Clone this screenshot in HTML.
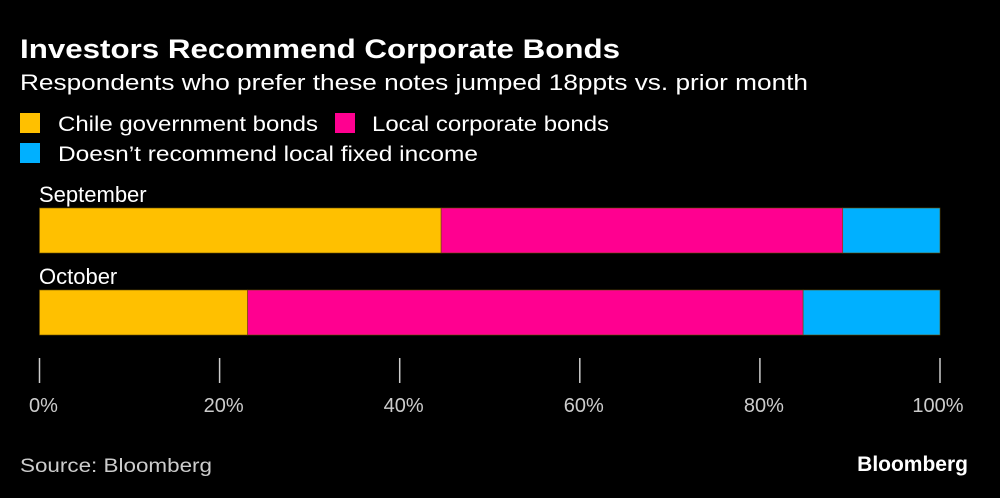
<!DOCTYPE html>
<html><head><meta charset="utf-8">
<style>
body{margin:0;background:#000;width:1000px;height:498px;overflow:hidden;font-family:"Liberation Sans",sans-serif;color:#fff}
svg{position:absolute;left:0;top:0}
</style></head>
<body>
<svg width="1000" height="498">
<text x="20" y="58" font-size="27" font-weight="bold" fill="#fff" textLength="600" lengthAdjust="spacingAndGlyphs">Investors Recommend Corporate Bonds</text>
<text x="20" y="90" font-size="22" fill="#fff" textLength="788" lengthAdjust="spacingAndGlyphs">Respondents who prefer these notes jumped 18ppts vs. prior month</text>
<g>
<rect x="20" y="113" width="20" height="20" fill="#ffc000"/>
<text x="58" y="131" font-size="21" fill="#fff" textLength="260" lengthAdjust="spacingAndGlyphs">Chile government bonds</text>
<rect x="335" y="113" width="20" height="20" fill="#ff0090"/>
<text x="372" y="131" font-size="21" fill="#fff" textLength="237" lengthAdjust="spacingAndGlyphs">Local corporate bonds</text>
<rect x="20" y="143" width="20" height="20" fill="#00b0ff"/>
<text x="58" y="161" font-size="21" fill="#fff" textLength="420" lengthAdjust="spacingAndGlyphs">Doesn’t recommend local fixed income</text>
</g>
<g id="plot"></g>
<text x="20" y="472" font-size="19" fill="#ccc" textLength="192" lengthAdjust="spacingAndGlyphs">Source: Bloomberg</text>
<text x="968" y="471" font-size="21" font-weight="bold" fill="#fff" text-anchor="end">Bloomberg</text>
</svg>
<script>
const categories = ["September", "October"];
const chileVals = [44.6, 23.1];
const corpVals = [44.6, 61.7];
const noneVals = [10.8, 15.2];
const ticks = [0, 20, 40, 60, 80, 100];
const tickLabels = ["0%", "20%", "40%", "60%", "80%", "100%"];

const NS = "http://www.w3.org/2000/svg";
const g = document.getElementById("plot");
const x0 = 39.5, x1 = 940;
const xs = v => x0 + (x1 - x0) * v / 100;
const rowTop = i => 208 + i * 82;
const barH = 45;
function mk(tag, attrs) { const e = document.createElementNS(NS, tag); for (const k in attrs) e.setAttribute(k, attrs[k]); g.appendChild(e); return e; }
const series = [[chileVals, "#ffc000", "chile"], [corpVals, "#ff0090", "corporate"], [noneVals, "#00b0ff", "none"]];
categories.forEach((c, i) => {
  const t = mk("text", {x: 39, y: rowTop(i) - 6, "font-size": 22, fill: "#fff"});
  t.textContent = c;
  
  
  let acc = 0;
  series.forEach(([vals, col, nm]) => {
    const a = xs(acc), b = xs(acc + vals[i]);
    const r = mk("rect", {x: a, y: rowTop(i), width: b - a, height: barH, fill: col, stroke: "#6a5000", "stroke-width": 0.6});
    
    
    acc += vals[i];
  });
});
ticks.forEach((v, j) => {
  const l = mk("line", {x1: xs(v), x2: xs(v), y1: 358, y2: 383, stroke: "#ccc", "stroke-width": 1.5});
  
  
  const t = mk("text", {x: xs(v) + (j === ticks.length - 1 ? -2 : 4), y: 412, "font-size": 20, fill: "#ccc", "text-anchor": "middle"});
  t.textContent = tickLabels[j];
  
  
});
</script>
</body></html>
